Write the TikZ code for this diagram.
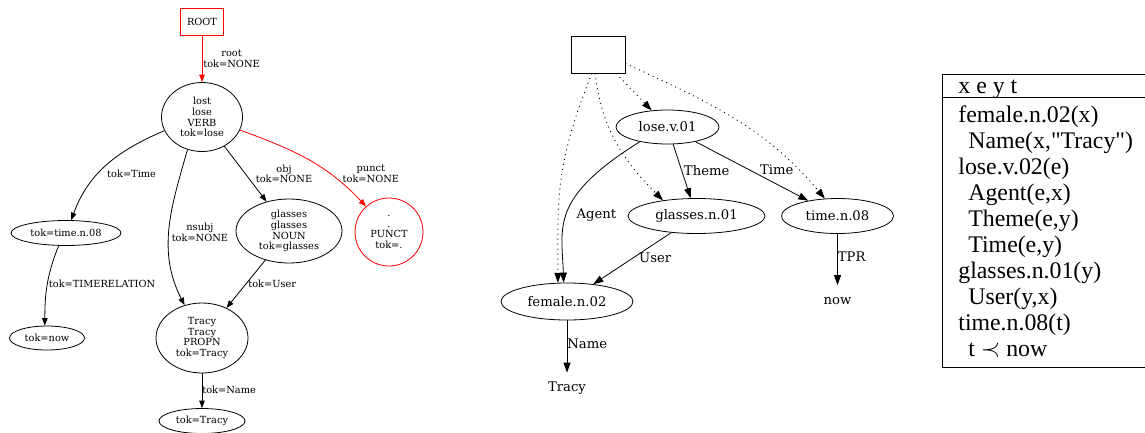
\documentclass[tikz,border=0pt]{standalone}
\usepackage{fontspec}
\usepackage{tikz}
\usetikzlibrary{shapes.geometric,arrows.meta}
\newfontfamily\gvfont{DejaVu Serif}
\newfontfamily\drsfont{Liberation Serif}
\definecolor{gvred}{RGB}{255,0,0}

\begin{document}
\begin{tikzpicture}[x=1pt, y=-1pt, line width=0.8pt, inner sep=0pt,
    ufont/.style = {font=\gvfont\fontsize{9.8}{10.8}\selectfont},
    gfont/.style = {font=\gvfont\fontsize{13.2}{15}\selectfont},
    utok/.style = {ufont, draw, ellipse, align=center},
    uroot/.style = {ufont, minimum width=42, minimum height=26},
    gsyn/.style = {gfont, draw, ellipse},
    uedge/.style = {-{Triangle[length=7.5pt,width=5.5pt]}},
    gedge/.style = {-{Triangle[length=10pt,width=7pt]}},
    gref/.style = {gedge, line width=0.9pt, dash pattern=on 1pt off 4pt},
    ulab/.style = {ufont, align=center, anchor=west, text=black},
    glab/.style = {gfont, anchor=west},
    drs/.style = {font=\drsfont\fontsize{23.8}{26}\selectfont, anchor=base west}]
\useasboundingbox (0,0) rectangle (1145,432);

% dependency parse
\node[uroot] (r0) at (202,22) {ROOT};
\draw[gvred, line width=1pt] (r0.south west) rectangle (r0.north east);
\node[utok, minimum width=81, minimum height=69] (ulost) [below of=r0, node distance=95pt] {lost\\lose\\VERB\\tok=lose};
\node[utok, minimum width=110, minimum height=25] (utime) at (66,233) {tok=time.n.08};
\node[utok, minimum width=75, minimum height=24] (unow) at (47,338) {tok=now};
\node[utok, minimum width=106, minimum height=64] (uglass) at (289,231) {glasses\\glasses\\NOUN\\tok=glasses};
\node[utok, draw=gvred, circle, minimum size=68] (upunct) at (389,232) {.\\.\\PUNCT\\tok=.};
\node[utok, minimum width=92, minimum height=70] (utracy) at (202,338) {Tracy\\Tracy\\PROPN\\tok=Tracy};
\node[utok, minimum width=86, minimum height=25] (uname) [below of=utracy, node distance=83pt] {tok=Tracy};
\draw[uedge, gvred] (r0) -- node[ulab, pos=.5, xshift=1pt] {root\\tok=NONE} (ulost);
\draw[uedge] (ulost.200) to[out=203, in=70] node[ulab, pos=.5, yshift=-9pt] {tok=Time} (utime.68);
\draw[uedge] (utime.240) to[out=248, in=90] node[ulab, pos=.48, xshift=1pt] {tok=TIMERELATION} (unow.100);
\draw[uedge] (ulost.246) to[out=254, in=117] node[ulab, pos=.5, xshift=2pt, yshift=-3pt] {nsubj\\tok=NONE} (utracy.118);
\draw[uedge] (ulost) -- node[ulab, pos=.5, xshift=10pt] {obj\\tok=NONE} (uglass);
\draw[uedge, gvred] (ulost.341) to[out=340, in=133] node[ulab, pos=.75, xshift=5pt, yshift=6pt] {punct\\tok=NONE} (upunct.132);
\draw[uedge] (uglass) -- node[ulab, pos=.5, xshift=2pt] {tok=User} (utracy);
\draw[uedge] (utracy) -- node[ulab, pos=.46] {tok=Name} (uname);

% semantic graph
\node[draw, minimum width=54, minimum height=37] (gtop) at (598,54.5) {};
\node[gsyn, minimum width=103, minimum height=34] (glose) at (667.5,127) {lose.v.01};
\node[gsyn, minimum width=137, minimum height=35] (gglass) at (696.5,216) {glasses.n.01};
\node[gsyn, minimum width=112, minimum height=35] (gtime) at (837.5,216) {time.n.08};
\node[gsyn, minimum width=132, minimum height=37] (gfemale) at (567,301.5) {female.n.02};
\node[gfont, minimum height=32] (gnow) at (837.5,301.5) {now};
\node[gfont, minimum height=30] (gtracy) at (567,388) {Tracy};
\draw[gref] (gtop) -- (glose);
\draw[gref] (gtop.261) to[out=277, in=135] (gglass.155);
\draw[gref] (gtop.252) to[out=248, in=90, out looseness=1.2] (gfemale.116);
\draw[gref] (gtop.342) to[out=335, in=130] (gtime.126);
\draw[gedge] (glose.208) to[out=212, in=92, out looseness=1.7, in looseness=0.9] node[glab, pos=.5, xshift=9pt, yshift=-3pt] {Agent} (gfemale.100);
\draw[gedge] (glose) -- node[glab, pos=.48, xshift=2pt] {Theme} (gglass);
\draw[gedge] (glose) -- node[glab, pos=.48, xshift=10pt] {Time} (gtime);
\draw[gedge] (gglass) -- node[glab, pos=.48, xshift=5pt] {User} (gfemale);
\draw[gedge] (gfemale) -- node[glab, pos=.45] {Name} (gtracy);
\draw[gedge] (gtime) -- node[glab, pos=.45] {TPR} (gnow);

% box
\node[draw, minimum width=204, minimum height=293, anchor=north west] (drs) at (942,74) {};
\draw ([yshift=-23.5pt]drs.north west) -- ([yshift=-23.5pt]drs.north east);
\node[drs] (drshead) at (958,93) {x e y t};
\foreach \ind/\txt [count=\i] in {0/{female.n.02(x)}, 10/{Name(x,"Tracy")}, 0/{lose.v.02(e)},
    10/{Agent(e,x)}, 10/{Theme(e,y)}, 10/{Time(e,y)}, 0/{glasses.n.01(y)}, 10/{User(y,x)},
    0/{time.n.08(t)}, 10/{t $\prec$ now}}
  \node[drs] (drs\i) at (958+\ind, 95.9+26.1*\i) {\txt};
\end{tikzpicture}
\end{document}
